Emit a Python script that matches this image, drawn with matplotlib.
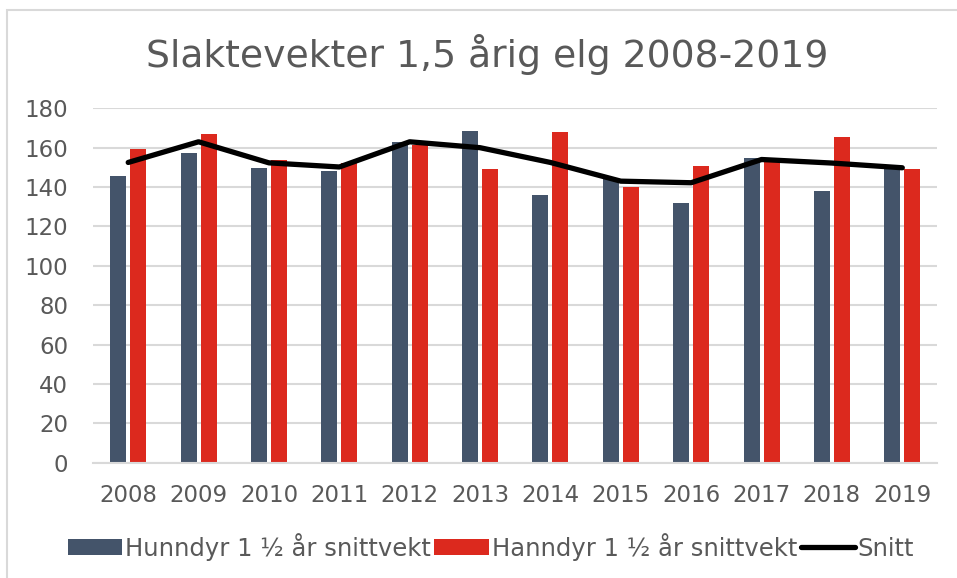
import matplotlib
matplotlib.use("Agg")
import matplotlib.pyplot as plt
import numpy as np
from matplotlib.patches import Rectangle

_GRAY = "#44546A"
_RED  = "#DC291E"
_TXT  = "#595959"
_GRID = "#D9D9D9"

years   = ["2008", "2009", "2010", "2011", "2012", "2013",
           "2014", "2015", "2016", "2017", "2018", "2019"]
hunndyr = [145.5, 157.5, 149.8, 148.0, 163.0, 168.7,
           135.8, 144.5, 132.1, 154.7, 138.1, 150.0]
hanndyr = [159.2, 167.0, 153.7, 152.0, 161.5, 149.3,
           168.2, 140.0, 150.9, 153.5, 165.4, 149.2]
snitt   = [152.5, 163.0, 152.3, 150.2, 163.0, 160.0,
           152.5, 143.0, 142.2, 154.0, 152.2, 149.8]

fig = plt.figure(figsize=(9.57, 5.78), dpi=100, facecolor="white")
ax = fig.add_axes([0.0972, 0.1995, 0.8824, 0.6131])

# light frame round the whole chart
fig.patches.append(Rectangle((0.0075, -0.05), 1.1, 1.033, transform=fig.transFigure,
                             facecolor="none", edgecolor=_GRID, linewidth=1.5))

x = np.arange(len(years))
w = 0.227
b1 = ax.bar(x - 0.142, hunndyr, w, color=_GRAY, label="Hunndyr 1 ½ år snittvekt", zorder=2)
b2 = ax.bar(x + 0.142, hanndyr, w, color=_RED, label="Hanndyr 1 ½ år snittvekt", zorder=2)
ln, = ax.plot(x, snitt, color="black", linewidth=3.8, label="Snitt", zorder=3,
              solid_capstyle="round", solid_joinstyle="round")

ax.set_xlim(-0.5, len(years) - 0.5)
ax.set_ylim(0, 180)
ax.set_yticks(range(0, 181, 20))
ax.set_xticks(x)
ax.set_xticklabels(years)
ax.tick_params(colors=_TXT, labelsize=16.5, length=0)
ax.tick_params(axis="x", pad=15)
ax.tick_params(axis="y", pad=18)
for lbl in ax.get_xticklabels() + ax.get_yticklabels():
    lbl.set_color(_TXT)
ax.grid(axis="y", color=_GRID, linewidth=1.5, zorder=0)
ax.set_axisbelow(True)
for s in ["top", "right", "left"]:
    ax.spines[s].set_visible(False)
ax.spines["bottom"].set_color(_GRID)
ax.spines["bottom"].set_linewidth(1.5)

fig.text(0.509, 0.905, "Slaktevekter 1,5 årig elg 2008-2019", ha="center", va="center",
         fontsize=27.2, color=_TXT)

leg = fig.legend([b1, b2, ln], [b1.get_label(), b2.get_label(), ln.get_label()],
                 loc="center", bbox_to_anchor=(0.513, 0.054), ncol=3, frameon=False,
                 fontsize=17.5, handlelength=2.25, handletextpad=0.1, columnspacing=0.15,
                 handleheight=0.66)
for t in leg.get_texts():
    t.set_color(_TXT)

fig.savefig("out.png", dpi=100, facecolor="white")
